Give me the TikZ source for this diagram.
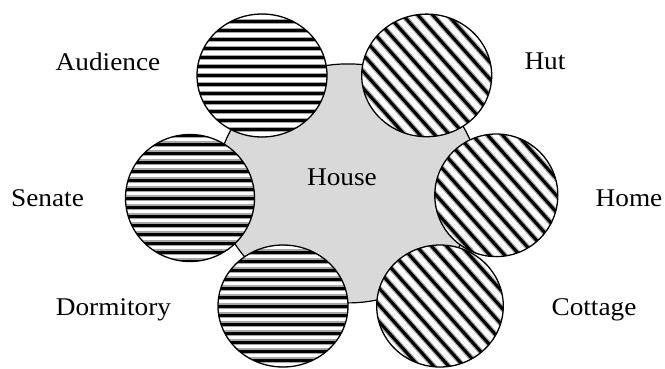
\documentclass[tikz,border=0pt]{standalone}
\usepackage{fontspec}
\setmainfont{Liberation Serif}
\usetikzlibrary{shapes.geometric}
\tikzset{
  base/.style={ellipse, draw=black, line width=1.3pt, inner sep=0pt, fill=white},
  hstripe/.style={base, path picture={
      \foreach \k in {-8,...,8} {
        \draw[line width=5.5pt, black!35] ([yshift=\k*9pt]path picture bounding box.center) ++(-80,0) -- ++(160,0);
        \draw[line width=3pt, black] ([yshift=\k*9pt]path picture bounding box.center) ++(-80,0) -- ++(160,0);
      }}},
  dstripe/.style={base, path picture={
      \foreach \k in {-12,...,12} {
        \draw[line width=5.5pt, black!35] ([xshift=\k*15pt]path picture bounding box.center) ++(-70,-78.4) -- ++(140,156.8);
        \draw[line width=3pt, black] ([xshift=\k*15pt]path picture bounding box.center) ++(-70,-78.4) -- ++(140,156.8);
      }}},
  hub/.style={ellipse, draw=black, line width=1.2pt, fill=black!15, inner sep=0pt},
  lbl/.style={font=\fontsize{25.5}{30}\selectfont, anchor=base, inner sep=0pt, xscale=1.07}
}
\begin{document}
\begin{tikzpicture}[x=1pt,y=-1pt]
\useasboundingbox (0,0) rectangle (665,368);
\node[hub, minimum width=262pt, minimum height=239pt] (house) at (348,183.4) {};
\node[hstripe, minimum width=130pt, minimum height=123pt] (audience) at (262,75.5) {};
\node[dstripe, minimum width=130pt, minimum height=122.6pt] (hut) at (426.7,75.4) {};
\node[dstripe, minimum width=123pt, minimum height=122.6pt] (home) at (496.3,195.3) {};
\node[dstripe, minimum width=126.6pt, minimum height=122pt] (cottage) at (440,306) {};
\node[hstripe, minimum width=130pt, minimum height=122pt] (dorm) at (283,306) {};
\node[hstripe, minimum width=129pt, minimum height=127pt] (senate) at (190,198) {};
\node[lbl] (tHouse) at (342,185) {House};
\node[lbl] (tAudience) at (108,70) {Audience};
\node[lbl] (tHut) at (545,69) {Hut};
\node[lbl] (tHome) at (629,206) {Home};
\node[lbl] (tSenate) at (47.5,206) {Senate};
\node[lbl] (tDorm) at (113.5,315) {Dormitory};
\node[lbl] (tCottage) at (594,315) {Cottage};
\end{tikzpicture}
\end{document}
